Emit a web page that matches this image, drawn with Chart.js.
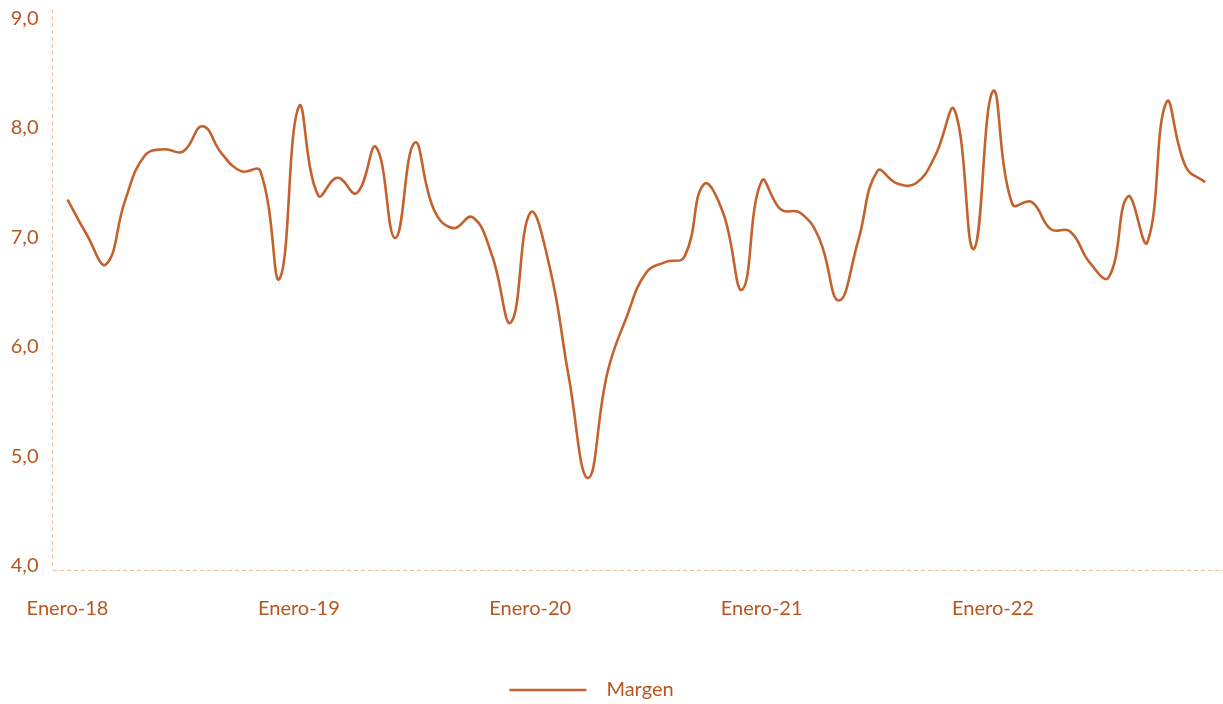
<!DOCTYPE html>
<html lang="es">
<head>
<meta charset="utf-8">
<title>Margen</title>
<script src="https://cdn.jsdelivr.net/npm/chart.js@4.4.1/dist/chart.umd.min.js"></script>
<style>
  html, body { margin: 0; padding: 0; background: #ffffff; }
  #wrap { position: relative; width: 1223px; height: 704px; }
</style>
</head>
<body>
<div id="wrap"><canvas id="chart"></canvas></div>
<script>
// Monthly series, January 2018 to December 2022
const monthNames = ['Enero', 'Febrero', 'Marzo', 'Abril', 'Mayo', 'Junio',
  'Julio', 'Agosto', 'Septiembre', 'Octubre', 'Noviembre', 'Diciembre'];
const years = ['18', '19', '20', '21', '22'];
const months = [];
years.forEach(y => monthNames.forEach(m => months.push(m + '-' + y)));

const margen = [
  7.38, 7.06, 6.79, 7.38, 7.78, 7.84, 7.82, 8.05, 7.80, 7.64, 7.64, 6.66,
  8.23, 7.42, 7.58, 7.44, 7.86, 7.03, 7.90, 7.29, 7.12, 7.22, 6.88, 6.26,
  7.26, 6.77, 5.76, 4.84, 5.80, 6.31, 6.71, 6.81, 6.86, 7.52, 7.26, 6.56,
  7.55, 7.29, 7.26, 7.02, 6.46, 7.00, 7.64, 7.53, 7.53, 7.78, 8.20, 6.93,
  8.37, 7.34, 7.36, 7.11, 7.09, 6.81, 6.67, 7.41, 6.99, 8.27, 7.68, 7.54
];

const xTickIndex = [0, 12, 24, 36, 48];
const yTicks = [4, 5, 6, 7, 8, 9];

const X_MIN = -0.78, X_MAX = 59.93;
const Y_MIN = 4, Y_MAX = 9.12;

const lineColor = '#C4622D';
const textColor = '#B8561F';
const axisColor = '#F3C09C';
const fontFamily = 'Lato, "Open Sans", sans-serif';
const FONT_SIZE = 20;

// Moves the legend row to its place under the plot
const legendPlacement = {
  id: 'legendPlacement',
  afterLayout(chart) {
    const lg = chart.legend;
    if (!lg) return;
    const dx = -20, dy = 6;
    lg.left += dx; lg.right += dx; lg.top += dy; lg.bottom += dy;
  }
};

new Chart(document.getElementById('chart'), {
  type: 'line',
  data: {
    datasets: [{
      label: 'Margen',
      data: margen.map((v, i) => ({ x: i, y: v })),
      borderColor: lineColor,
      backgroundColor: lineColor,
      borderWidth: 2.6,
      pointRadius: 0,
      pointStyle: 'line',
      tension: 0.45,
      fill: false
    }]
  },
  plugins: [legendPlacement],
  options: {
    responsive: true,
    maintainAspectRatio: false,
    animation: false,
    layout: { padding: { top: 9, left: 0, right: 0, bottom: 0 } },
    plugins: {
      tooltip: { enabled: false },
      legend: {
        position: 'bottom',
        labels: {
          usePointStyle: true,
          pointStyle: 'line',
          pointStyleWidth: 77,
          color: textColor,
          padding: 10,
          font: { family: fontFamily, size: FONT_SIZE },
          generateLabels(chart) {
            const items = Chart.defaults.plugins.legend.labels.generateLabels(chart);
            items.forEach(it => { it.text = '\u2002' + it.text; it.lineWidth = 2.6; });
            return items;
          }
        }
      }
    },
    scales: {
      x: {
        type: 'linear',
        min: X_MIN,
        max: X_MAX,
        // only the left edge line is drawn, dashed, as the vertical axis
        grid: {
          display: true,
          drawTicks: false,
          lineWidth: 1,
          color: c => (c.tick && c.tick.value === X_MIN) ? axisColor : 'rgba(0,0,0,0)'
        },
        border: { display: false, dash: [4, 3] },
        afterFit(scale) { scale.height = 94; scale.paddingLeft = 0; scale.paddingRight = 0; },
        afterBuildTicks(scale) {
          scale.ticks = [{ value: X_MIN }].concat(xTickIndex.map(v => ({ value: v })));
        },
        ticks: {
          color: textColor,
          font: { family: fontFamily, size: FONT_SIZE },
          padding: 27,
          maxRotation: 0,
          autoSkip: false,
          callback: v => (Number.isInteger(v) ? months[v] : '')
        }
      },
      y: {
        min: Y_MIN,
        max: Y_MAX,
        // only the baseline at 4,0 is drawn, dashed, as the horizontal axis
        grid: {
          display: true,
          drawTicks: false,
          lineWidth: 1,
          color: c => (c.tick && c.tick.value === Y_MIN) ? axisColor : 'rgba(0,0,0,0)'
        },
        border: { display: false, dash: [4, 3] },
        afterFit(scale) { scale.width = 52.5; scale.paddingTop = 0; scale.paddingBottom = 0; },
        afterBuildTicks(scale) { scale.ticks = yTicks.map(v => ({ value: v })); },
        ticks: {
          color: textColor,
          font: { family: fontFamily, size: FONT_SIZE },
          padding: 14,
          labelOffset: -4,
          callback: v => v.toFixed(1).replace('.', ',')
        }
      }
    }
  }
});
</script>
</body>
</html>
